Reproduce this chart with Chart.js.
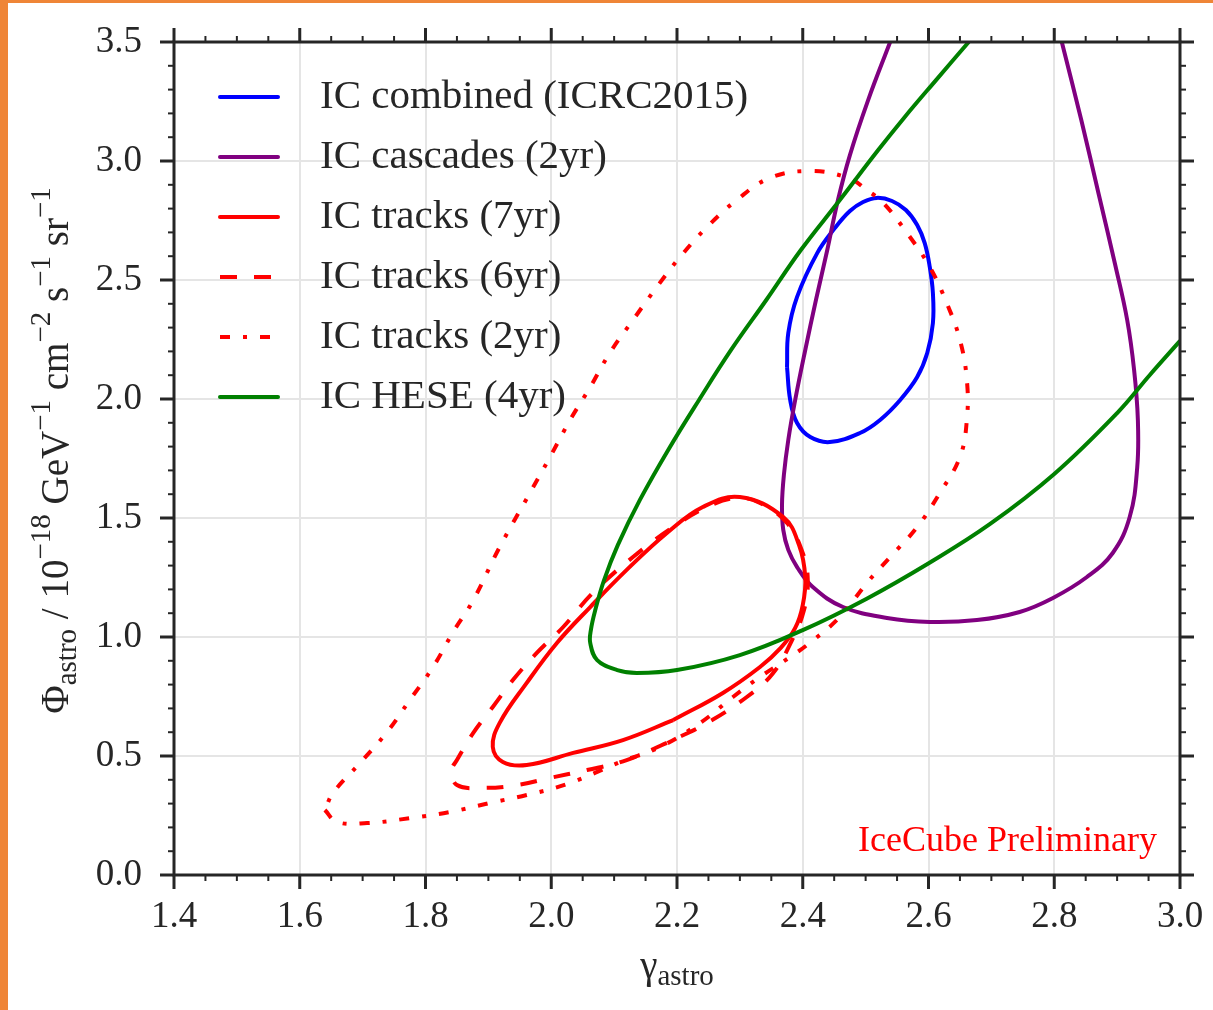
<!DOCTYPE html>
<html>
<head>
<meta charset="utf-8">
<script src="https://cdn.jsdelivr.net/npm/chart.js@4.4.1/dist/chart.umd.min.js"></script>
<style>
  html, body { margin: 0; padding: 0; background: #fff; }
  #frame {
    position: absolute; left: 0; top: 0;
    width: 1205px; height: 1007px;
    border-left: 8px solid #ef8537;
    border-top: 3px solid #ef8537;
  }
  canvas { display: block; }
</style>
</head>
<body>
<div id="frame"><canvas id="myChart" width="1205" height="1007"></canvas></div>
<script>
// contours: gamma (x) and flux in 1e-18 units (y)
const combinedGamma = [2.375, 2.377, 2.391, 2.423, 2.451, 2.475, 2.496, 2.518, 2.542, 2.564, 2.582, 2.594, 2.602, 2.607, 2.607, 2.598, 2.582, 2.555, 2.523, 2.491, 2.443, 2.412, 2.391, 2.380, 2.375];
const combinedPhi   = [2.134, 2.277, 2.429, 2.613, 2.718, 2.790, 2.828, 2.845, 2.832, 2.794, 2.731, 2.655, 2.555, 2.445, 2.319, 2.193, 2.092, 1.996, 1.912, 1.857, 1.819, 1.840, 1.899, 1.996, 2.134];

const cascadesGamma = [2.539, 2.504, 2.475, 2.456, 2.439, 2.421, 2.404, 2.388, 2.377, 2.370, 2.367, 2.369, 2.377, 2.391, 2.416, 2.464, 2.534, 2.602, 2.677, 2.745, 2.798, 2.852, 2.893, 2.920, 2.932, 2.933, 2.927, 2.916, 2.897, 2.871, 2.843, 2.812];
const cascadesPhi   = [3.500, 3.256, 3.025, 2.836, 2.626, 2.416, 2.206, 1.996, 1.828, 1.681, 1.555, 1.450, 1.366, 1.294, 1.210, 1.126, 1.080, 1.063, 1.071, 1.105, 1.164, 1.252, 1.353, 1.504, 1.714, 1.912, 2.122, 2.332, 2.563, 2.857, 3.172, 3.500];

const tracks7Gamma = [2.194, 2.114, 2.035, 1.961, 1.923, 1.907, 1.918, 1.961, 2.009, 2.062, 2.120, 2.184, 2.241, 2.300, 2.369, 2.394, 2.404, 2.400, 2.388, 2.365, 2.332, 2.273, 2.194];
const tracks7Phi   = [0.651, 0.567, 0.513, 0.462, 0.475, 0.538, 0.639, 0.807, 0.975, 1.126, 1.282, 1.437, 1.546, 1.588, 1.504, 1.387, 1.252, 1.134, 1.038, 0.954, 0.874, 0.765, 0.651];

const tracks6Gamma = [2.184, 2.120, 2.057, 1.998, 1.946, 1.891, 1.850, 1.842, 1.850, 1.876, 1.907, 1.939, 1.977, 2.019, 2.066, 2.130, 2.194, 2.248, 2.295, 2.332, 2.375, 2.400, 2.408, 2.402, 2.383, 2.353, 2.311, 2.248, 2.184];
const tracks6Phi   = [0.555, 0.483, 0.441, 0.408, 0.378, 0.366, 0.378, 0.441, 0.483, 0.597, 0.706, 0.819, 0.933, 1.042, 1.185, 1.336, 1.462, 1.546, 1.584, 1.563, 1.479, 1.353, 1.239, 1.113, 0.987, 0.849, 0.748, 0.639, 0.555];

const tracks2Gamma = [1.640, 1.659, 1.707, 1.775, 1.839, 1.903, 1.961, 2.025, 2.114, 2.173, 2.237, 2.289, 2.332, 2.380, 2.411, 2.459, 2.502, 2.539, 2.582, 2.618, 2.650, 2.661, 2.661, 2.650, 2.629, 2.602, 2.566, 2.528, 2.502, 2.472, 2.412, 2.348, 2.295, 2.248, 2.205, 2.168, 2.130, 2.093, 2.062, 2.030, 1.998, 1.966, 1.918, 1.876, 1.844, 1.812, 1.775, 1.739, 1.696, 1.653, 1.640];
const tracks2Phi   = [0.273, 0.223, 0.218, 0.239, 0.265, 0.303, 0.336, 0.382, 0.479, 0.538, 0.639, 0.748, 0.832, 0.916, 0.975, 1.084, 1.227, 1.336, 1.462, 1.605, 1.756, 1.912, 2.080, 2.248, 2.403, 2.555, 2.697, 2.824, 2.878, 2.929, 2.958, 2.929, 2.836, 2.723, 2.597, 2.471, 2.332, 2.193, 2.050, 1.912, 1.756, 1.605, 1.378, 1.155, 1.021, 0.874, 0.735, 0.601, 0.471, 0.345, 0.273];

const heseGamma = [2.664, 2.612, 2.561, 2.520, 2.459, 2.397, 2.342, 2.286, 2.235, 2.186, 2.141, 2.106, 2.084, 2.070, 2.063, 2.062, 2.073, 2.105, 2.136, 2.200, 2.300, 2.400, 2.501, 2.601, 2.698, 2.800, 2.900, 2.952, 3.000];
const hesePhi   = [3.500, 3.340, 3.181, 3.046, 2.836, 2.626, 2.416, 2.206, 1.996, 1.786, 1.576, 1.387, 1.239, 1.113, 1.029, 0.975, 0.903, 0.861, 0.849, 0.861, 0.924, 1.029, 1.160, 1.311, 1.475, 1.685, 1.941, 2.101, 2.244];

const seriesLabels = ['IC combined (ICRC2015)', 'IC cascades (2yr)', 'IC tracks (7yr)', 'IC tracks (6yr)', 'IC tracks (2yr)', 'IC HESE (4yr)'];
const xTicks = [1.4, 1.6, 1.8, 2.0, 2.2, 2.4, 2.6, 2.8, 3.0];
const yTicks = [0.0, 0.5, 1.0, 1.5, 2.0, 2.5, 3.0, 3.5];

const SERIF = "'Liberation Serif', 'DejaVu Serif', serif";
const INK = '#262626';

function pts(xs, ys) {
    return xs.map((x, i) => ({ x: x, y: ys[i] }));
}

const styles = [
    { color: '#0000ff', dash: [] },
    { color: '#800080', dash: [] },
    { color: '#ff0000', dash: [] },
    { color: '#ff0000', dash: [17, 17] },
    { color: '#ff0000', dash: [10, 13, 4, 13] },
    { color: '#008000', dash: [] }
];
const allData = [
    pts(combinedGamma, combinedPhi),
    pts(cascadesGamma, cascadesPhi),
    pts(tracks7Gamma, tracks7Phi),
    pts(tracks6Gamma, tracks6Phi),
    pts(tracks2Gamma, tracks2Phi),
    pts(heseGamma, hesePhi)
];

const datasets = allData.map((d, i) => ({
    label: seriesLabels[i],
    data: d,
    showLine: true,
    borderColor: styles[i].color,
    backgroundColor: styles[i].color,
    borderDash: styles[i].dash,
    borderWidth: 4,
    pointRadius: 0,
    tension: 0.4,
    fill: false,
    order: 5 - i
}));

// axes frame, ticks on all four sides, titles, legend and label
const decorations = {
    id: 'decorations',
    afterDatasetsDraw(chart) {
        const { ctx, chartArea: a } = chart;
        ctx.save();
        chart.data.datasets.forEach((ds, i) => {
            const yy = a.top + 55 + i * 60;
            ctx.strokeStyle = ds.borderColor;
            ctx.lineWidth = 4;
            ctx.setLineDash(ds.borderDash);
            ctx.lineCap = ds.borderDash.length ? 'butt' : 'round';
            ctx.beginPath();
            ctx.moveTo(a.left + 46, yy);
            ctx.lineTo(a.left + 104, yy);
            ctx.stroke();
            ctx.setLineDash([]);
            ctx.fillStyle = INK;
            ctx.font = '41px ' + SERIF;
            ctx.textBaseline = 'middle';
            ctx.textAlign = 'left';
            ctx.fillText(ds.label, a.left + 146, yy);
        });
        ctx.fillStyle = '#ff0000';
        ctx.font = '36px ' + SERIF;
        ctx.textAlign = 'right';
        ctx.textBaseline = 'alphabetic';
        ctx.fillText('IceCube Preliminary', a.right - 23, a.bottom - 24);
        ctx.restore();
    },
    afterDraw(chart) {
        const { ctx, chartArea: a, scales: { x, y } } = chart;
        ctx.save();
        ctx.strokeStyle = INK;
        const seg = (x1, y1, x2, y2) => {
            ctx.beginPath();
            ctx.moveTo(x1, y1);
            ctx.lineTo(x2, y2);
            ctx.stroke();
        };
        for (let i = 0; i <= 32; i++) {
            const px = x.getPixelForValue(1.4 + i * 0.05);
            const major = i % 4 === 0;
            const len = major ? 14 : 6;
            ctx.lineWidth = major ? 3 : 2;
            seg(px, a.bottom, px, a.bottom + len);
            seg(px, a.top, px, a.top - len);
        }
        for (let i = 0; i <= 35; i++) {
            const py = y.getPixelForValue(i * 0.1);
            const major = i % 5 === 0;
            const len = major ? 14 : 6;
            ctx.lineWidth = major ? 3 : 2;
            seg(a.left, py, a.left - len, py);
            seg(a.right, py, a.right + len, py);
        }
        ctx.lineWidth = 3;
        ctx.strokeRect(a.left, a.top, a.right - a.left, a.bottom - a.top);

        // x title: gamma_astro
        ctx.fillStyle = INK;
        ctx.textBaseline = 'alphabetic';
        ctx.textAlign = 'left';
        const big = '39px ' + SERIF, small = '29px ' + SERIF;
        ctx.font = big;
        const gW = ctx.measureText('\u03b3').width;
        ctx.font = small;
        const sW = ctx.measureText('astro').width;
        let cx = (a.left + a.right) / 2 - (gW + sW) / 2;
        ctx.font = big;
        ctx.fillText('\u03b3', cx, a.bottom + 103);
        ctx.font = small;
        ctx.fillText('astro', cx + gW, a.bottom + 110);

        // y title with sub/superscripts
        const parts = [
            ['\u03a6', 0], ['astro', 1], [' / 10', 0], ['\u221218', 2], [' GeV', 0], ['\u22121', 2],
            [' cm', 0], ['\u22122', 2], [' s', 0], ['\u22121', 2], [' sr', 0], ['\u22121', 2]
        ];
        const fontOf = k => (k === 0 ? big : small);
        let total = 0;
        parts.forEach(p => { ctx.font = fontOf(p[1]); total += ctx.measureText(p[0]).width; });
        ctx.translate(a.left - 106, (a.top + a.bottom) / 2 - 8);
        ctx.rotate(-Math.PI / 2);
        let tx = -total / 2;
        parts.forEach(p => {
            ctx.font = fontOf(p[1]);
            const dy = p[1] === 1 ? 8 : (p[1] === 2 ? -18 : 0);
            ctx.fillText(p[0], tx, dy);
            tx += ctx.measureText(p[0]).width;
        });
        ctx.restore();
    }
};

const ctx = document.getElementById('myChart');

new Chart(ctx, {
    type: 'scatter',
    data: { datasets: datasets },
    options: {
        responsive: false,
        animation: false,
        devicePixelRatio: 1,
        events: [],
        layout: { padding: { top: 39, right: 33, left: 0, bottom: 0 } },
        plugins: {
            legend: { display: false },
            tooltip: { enabled: false }
        },
        scales: {
            x: {
                type: 'linear',
                min: xTicks[0],
                max: xTicks[xTicks.length - 1],
                afterFit: s => { s.height = 135; s.paddingLeft = 0; s.paddingRight = 0; },
                afterBuildTicks: s => { s.ticks = xTicks.map(v => ({ value: v })); },
                grid: { color: '#e5e5e5', lineWidth: 2, drawTicks: false },
                border: { display: false },
                ticks: {
                    padding: 20,
                    color: INK,
                    font: { family: SERIF, size: 37 },
                    maxRotation: 0,
                    autoSkip: false,
                    callback: v => Number(v).toFixed(1)
                }
            },
            y: {
                type: 'linear',
                min: yTicks[0],
                max: yTicks[yTicks.length - 1],
                afterFit: s => { s.width = 166; s.paddingTop = 0; s.paddingBottom = 0; },
                afterBuildTicks: s => { s.ticks = yTicks.map(v => ({ value: v })); },
                grid: { color: '#e5e5e5', lineWidth: 2, drawTicks: false },
                border: { display: false },
                ticks: {
                    padding: 32,
                    color: INK,
                    font: { family: SERIF, size: 37 },
                    autoSkip: false,
                    callback: v => Number(v).toFixed(1)
                }
            }
        }
    },
    plugins: [decorations]
});
</script>
</body>
</html>
